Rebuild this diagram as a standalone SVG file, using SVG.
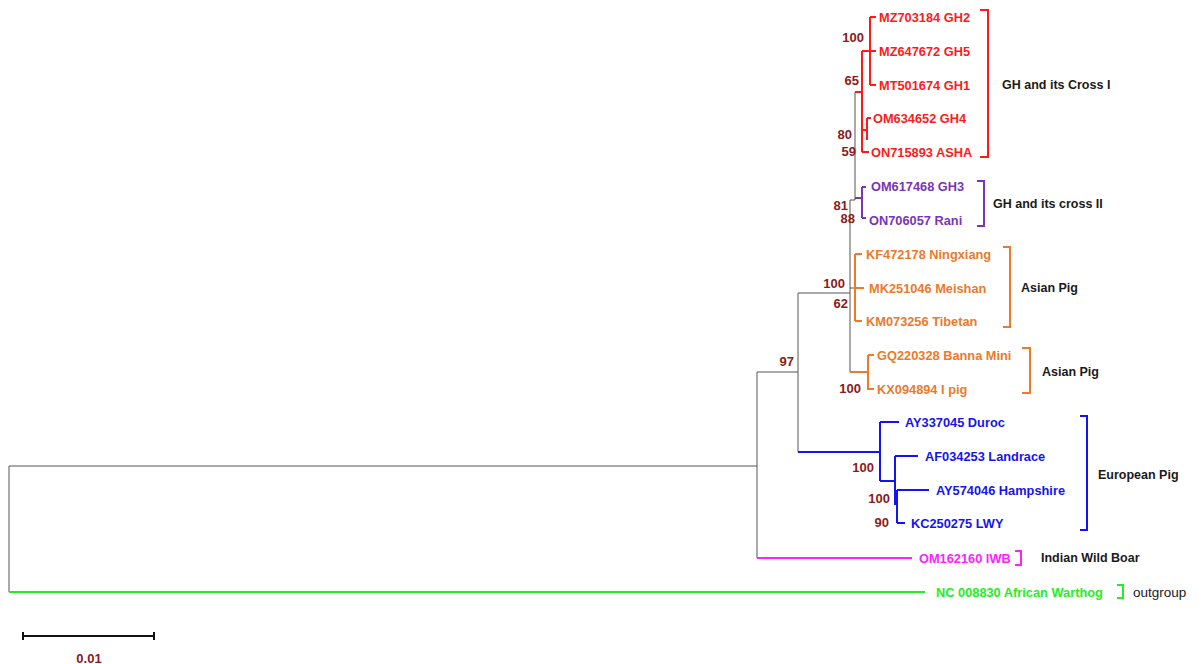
<svg xmlns="http://www.w3.org/2000/svg" width="1203" height="664" viewBox="0 0 1203 664">
<style>
text{font-family:"Liberation Sans",Arial,sans-serif;font-weight:bold;dominant-baseline:central}
.lf{font-size:12.8px}
.gl{font-size:12.5px;fill:#1a1a1a}
.bs{font-size:13px;fill:#8b1a1a;text-anchor:end}
.g{stroke:#555;stroke-width:1;fill:none}
.t{stroke-width:2;fill:none}
.red{stroke:#ff1a1a}.pur{stroke:#7a35b5}.ora{stroke:#ec7a2a}.blu{stroke:#1414f0}.mag{stroke:#ff22ff}.grn{stroke:#22ee22}
.tred{fill:#ff1a1a}.tpur{fill:#7a35b5}.tora{fill:#ec7a2a}.tblu{fill:#1414f0}.tmag{fill:#ff22ff}.tgrn{fill:#22ee22}
.br{stroke-width:2;fill:none}
</style>
<rect width="1203" height="664" fill="#fff"/>
<g id="connectors">
<path class="g" d="M9,466 V592 M9,466 H757 M757,372 V558 M757,372 H798 M798,293 V452 M798,293 H850 M850,200 V372 M850,200 H855 M855,92 V200 M850,288 H855"/>
<path class="t grn" d="M9,592 H925"/>
<path class="t mag" d="M757,558 H912"/>
<path class="t red" d="M855,92 H862 M862,51 V152 M862,51 H870 M870,17 V85 M870,17 H876 M870,51 H876 M870,85 H876 M862,130 H867 M867,118 V140 M867,118 H871 M862,152 H869"/>
<path class="t pur" d="M855,198 H862 M862,187 V218 M862,187 H866 M862,218 H866"/>
<path class="t ora" d="M855,254 V321 M855,254 H862 M855,288 H864 M855,321 H862"/>
<path class="t ora" d="M850,372 H868 M868,355 V390 M868,355 H874 M868,389 H874"/>
<path class="t blu" d="M798,452 H880 M880,422 V481 M880,422 H899 M880,481 H895 M895,456 V505 M895,456 H918 M897,490 V523 M897,490 H929 M897,523 H905"/>
</g>
<g id="brackets">
<path class="br red" d="M980,10 H988 V157 H980"/>
<path class="br pur" d="M977,181 H984 V226 H977"/>
<path class="br ora" d="M1003,247 H1010 V327 H1003"/>
<path class="br ora" d="M1022,348 H1030 V393 H1022"/>
<path class="br blu" d="M1080,416 H1087 V530 H1080"/>
<path class="br mag" d="M1015,551 H1021 V565 H1015"/>
<path class="br grn" d="M1117,585 H1123 V598 H1117"/>
</g>
<g id="leaf-labels">
<text id="n-gh2" class="lf tred" x="879" y="17">MZ703184 GH2</text>
<text id="n-gh5" class="lf tred" x="879" y="51">MZ647672 GH5</text>
<text id="n-gh1" class="lf tred" x="879" y="85">MT501674 GH1</text>
<text id="n-gh4" class="lf tred" x="873" y="118">OM634652 GH4</text>
<text id="n-asha" class="lf tred" x="871" y="152">ON715893 ASHA</text>
<text id="n-gh3" class="lf tpur" x="871" y="186">OM617468 GH3</text>
<text id="n-rani" class="lf tpur" x="869" y="220">ON706057 Rani</text>
<text id="n-ning" class="lf tora" x="866" y="254">KF472178 Ningxiang</text>
<text id="n-mei" class="lf tora" x="869" y="288">MK251046 Meishan</text>
<text id="n-tib" class="lf tora" x="866" y="321">KM073256 Tibetan</text>
<text id="n-banna" class="lf tora" x="877" y="355">GQ220328 Banna Mini</text>
<text id="n-ipig" class="lf tora" x="877" y="389">KX094894 I pig</text>
<text id="n-duroc" class="lf tblu" x="905" y="422">AY337045 Duroc</text>
<text id="n-land" class="lf tblu" x="925" y="456">AF034253 Landrace</text>
<text id="n-hamp" class="lf tblu" x="936" y="490">AY574046 Hampshire</text>
<text id="n-lwy" class="lf tblu" x="911" y="523">KC250275 LWY</text>
<text id="n-iwb" class="lf tmag" x="919" y="558">OM162160 IWB</text>
<text id="n-wart" class="lf tgrn" x="936" y="592">NC 008830 African Warthog</text>
</g>
<g id="group-labels">
<text class="gl" x="1002" y="85">GH and its Cross I</text>
<text class="gl" x="993" y="204">GH and its cross II</text>
<text class="gl" x="1021" y="288">Asian Pig</text>
<text class="gl" x="1042" y="372">Asian Pig</text>
<text class="gl" x="1098" y="475">European Pig</text>
<text class="gl" x="1041" y="558">Indian Wild Boar</text>
<text class="gl" x="1133" y="592" style="font-weight:normal;font-size:13.5px">outgroup</text>
</g>
<g id="bootstrap">
<text class="bs" x="864" y="37">100</text>
<text class="bs" x="859" y="80">65</text>
<text class="bs" x="852" y="134">80</text>
<text class="bs" x="856" y="151">59</text>
<text class="bs" x="848" y="205">81</text>
<text class="bs" x="855" y="218">88</text>
<text class="bs" x="845" y="283">100</text>
<text class="bs" x="848" y="303">62</text>
<text class="bs" x="794" y="361">97</text>
<text class="bs" x="861" y="388">100</text>
<text class="bs" x="874" y="467">100</text>
<text class="bs" x="890" y="498">100</text>
<text class="bs" x="889" y="522">90</text>
</g>
<g id="scale">
<path d="M23,636 H154 M23,632 V640 M154,632 V640" stroke="#111" stroke-width="2" fill="none"/>
<text class="bs" x="89" y="658" style="text-anchor:middle">0.01</text>
</g>
</svg>
